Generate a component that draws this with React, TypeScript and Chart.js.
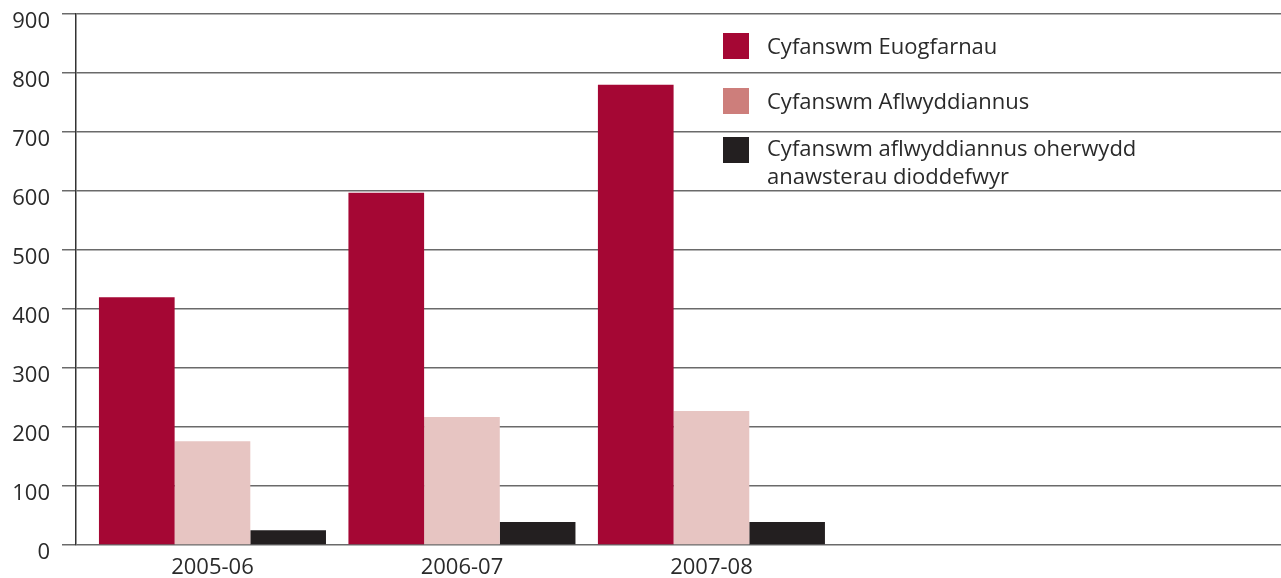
import React, { useEffect, useRef } from "react";
import { Chart, registerables } from "chart.js";

Chart.register(...registerables);

const categories = ["2005-06", "2006-07", "2007-08"];
const seriesNames = [
  "Cyfanswm Euogfarnau",
  "Cyfanswm Aflwyddiannus",
  "Cyfanswm aflwyddiannus oherwydd anawsterau dioddefwyr",
];
const euogfarnau = [420, 597, 780];
const aflwyddiannus = [176, 217, 227];
const anawsterau = [25, 39, 39];
const yTicks = [0, 100, 200, 300, 400, 500, 600, 700, 800, 900];

const barColors = ["#A50734", "#E7C5C2", "#231F20"];
const legendColors = ["#A50734", "#CD7E7B", "#231F20"];
const FONT = "'Open Sans', 'Noto Sans', sans-serif";

export default function App() {
  const ref = useRef<HTMLCanvasElement | null>(null);

  useEffect(() => {
    if (!ref.current) return;
    const values = [euogfarnau, aflwyddiannus, anawsterau];
    const chart = new Chart(ref.current, {
      type: "bar",
      data: {
        datasets: values.map((vals, i) => ({
          label: seriesNames[i],
          data: vals.map((v, j) => ({ x: j, y: v })),
          backgroundColor: barColors[i],
          borderWidth: 0,
          categoryPercentage: 0.91,
          barPercentage: 1,
        })),
      },
      options: {
        animation: false,
        responsive: false,
        maintainAspectRatio: false,
        layout: { padding: { top: 14, right: 0, left: 0, bottom: 0 } },
        plugins: { legend: { display: false }, tooltip: { enabled: false } },
        scales: {
          x: {
            type: "linear",
            offset: false,
            min: -0.547,
            max: 4.283,
            grid: { display: false, drawTicks: false },
            border: { display: false },
            afterBuildTicks: (axis: any) => {
              axis.ticks = categories.map((_, i) => ({ value: i }));
            },
            afterFit: (axis: any) => {
              axis.height = 33;
              axis.paddingLeft = 0;
              axis.paddingRight = 0;
            },
            ticks: {
              autoSkip: false,
              maxRotation: 0,
              padding: 10,
              color: "#2a2a2a",
              font: { family: FONT, size: 22 },
              callback: (v: any) => categories[v as number] ?? "",
            },
          },
          y: {
            min: 0,
            max: 900,
            afterBuildTicks: (axis: any) => {
              axis.ticks = yTicks.map((v) => ({ value: v }));
            },
            afterFit: (axis: any) => {
              axis.width = 76;
              axis.paddingTop = 0;
              axis.paddingBottom = 0;
            },
            grid: {
              color: "#6a6a6a",
              lineWidth: 1.5,
              tickLength: 14,
              drawTicks: true,
            },
            border: { display: true, color: "#333", width: 1.5 },
            ticks: {
              padding: 12,
              labelOffset: 8,
              color: "#2a2a2a",
              font: { family: FONT, size: 22 },
            },
          },
        },
      },
    });
    return () => chart.destroy();
  }, []);

  const legendTop = [46, 101, 148];
  return (
    <div
      style={{
        position: "fixed",
        left: 0,
        top: 0,
        width: 1281,
        height: 578,
        background: "#fff",
      }}
    >
      <canvas ref={ref} width={1281} height={578} style={{ width: 1281, height: 578 }} />
      {seriesNames.map((name, i) => (
        <div key={name}>
          <div
            style={{
              position: "absolute",
              left: 723,
              top: legendTop[i] - 13 + (i === 2 ? 2 : 0),
              width: 26,
              height: 26,
              background: legendColors[i],
            }}
          />
          <div
            style={{
              position: "absolute",
              left: 767,
              top: legendTop[i] - 15,
              width: 400,
              fontFamily: FONT,
              fontSize: 22,
              lineHeight: "28px",
              color: "#2a2a2a",
            }}
          >
            {name}
          </div>
        </div>
      ))}
    </div>
  );
}
